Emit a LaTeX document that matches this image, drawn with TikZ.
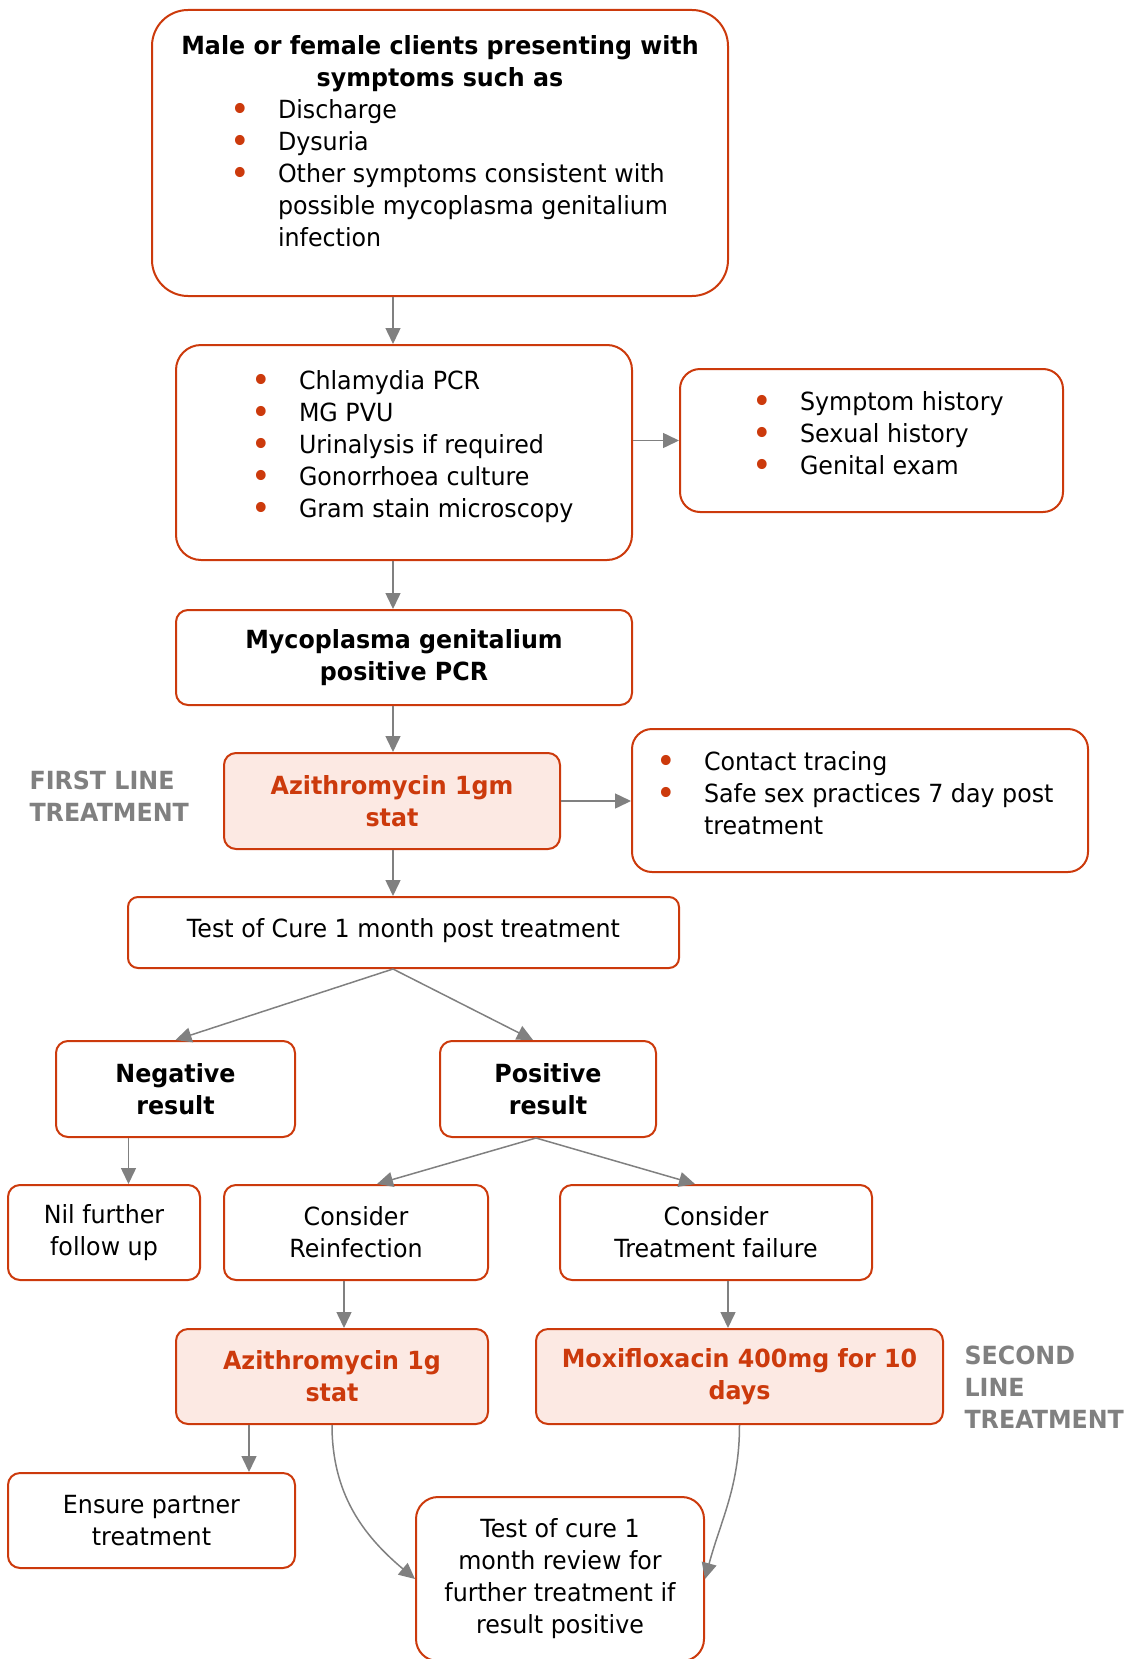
\documentclass[tikz,border=0pt]{standalone}
\usepackage{fontspec}
\setmainfont{DejaVu Sans}[FakeStretch=0.95]
\usepackage{xcolor}
\usepackage{tikz}
\usetikzlibrary{shapes.geometric, arrows, arrows.meta}
\definecolor{mgred}{RGB}{204,58,12}
\definecolor{mgpink}{RGB}{252,233,227}
\definecolor{mggrey}{RGB}{128,128,128}
\newcommand{\mgfont}{\fontsize{25}{32}\selectfont}
\newcommand{\bul}{\makebox[42pt][l]{\hspace{-6pt}\raisebox{-3pt}{\scalebox{1.4}{\textcolor{mgred}{\textbullet}}}}}
\newcommand{\bulline}[2]{\makebox[#1][l]{\bul #2}}
\newcommand{\bulcont}[2]{\makebox[#1][l]{\hspace{42pt}#2}}
\tikzstyle{plainbox} = [rectangle, rounded corners=12pt, 
draw=mgred, 
line width=2pt, 
fill=white, 
text=black, 
font=\mgfont, 
align=center]
\tikzstyle{drugbox} = [plainbox, 
fill=mgpink, 
text=mgred, 
font=\mgfont\bfseries]
\tikzstyle{sidelabel} = [text=mggrey, 
font=\mgfont\bfseries, 
align=left, 
anchor=west]
\tikzstyle{arrow} = [line width=1.5pt, draw=mggrey, ->, >={Triangle[length=16pt, width=15pt]}]

\begin{document}
\begin{tikzpicture}[x=1pt, y=-1pt]
\useasboundingbox (0,0) rectangle (1146,1659);
\coordinate (spine) at (393,0);

\node (top) [plainbox, rounded corners=36pt, minimum width=576pt, minimum height=286pt] at (440,153) {\textbf{Male or female clients presenting with}\\
\textbf{symptoms such as}\\
\bulline{408pt}{Discharge}\\
\bulline{408pt}{Dysuria}\\
\bulline{408pt}{Other symptoms consistent with}\\
\bulcont{408pt}{possible mycoplasma genitalium}\\
\bulcont{408pt}{infection}\rule[-24pt]{0pt}{24pt}};
\node (tests) [plainbox, rounded corners=25pt, minimum width=456pt, minimum height=215pt] at (404,452.5) {\bulline{294pt}{Chlamydia PCR}\\
\bulline{294pt}{MG PVU}\\
\bulline{294pt}{Urinalysis if required}\\
\bulline{294pt}{Gonorrhoea culture}\\
\bulline{294pt}{Gram stain microscopy}\rule[-18pt]{0pt}{18pt}};
\node (hist) [plainbox, rounded corners=20pt, minimum width=383pt, minimum height=143pt] at (871.5,440.5) {\bulline{227pt}{Symptom history}\\
\bulline{227pt}{Sexual history}\\
\bulline{227pt}{Genital exam}\rule[-16pt]{0pt}{16pt}};
\node (mg) [plainbox, minimum width=456pt, minimum height=95pt] at (404,657.5) {\textbf{Mycoplasma genitalium}\\ \textbf{positive PCR}};
\node (azi) [drugbox, minimum width=336pt, minimum height=96pt] at (392,801) {Azithromycin 1gm\\ stat};
\node (contact) [plainbox, rounded corners=20pt, minimum width=456pt, minimum height=143pt] at (860,800.5) {\bulline{396pt}{Contact tracing}\\
\bulline{396pt}{Safe sex practices 7 day post}\\
\bulcont{396pt}{treatment}\rule[-16pt]{0pt}{16pt}};
\node (toc) [plainbox, rounded corners=10pt, minimum width=551pt, minimum height=71pt] at (403.5,932.5) {Test of Cure 1 month post treatment\rule[-10pt]{0pt}{10pt}};
\node (neg) [plainbox, minimum width=239pt, minimum height=96pt] at (175.5,1089) {\textbf{Negative}\\ \textbf{result}};
\node (pos) [plainbox, minimum width=216pt, minimum height=96pt] at (548,1089) {\textbf{Positive}\\ \textbf{result}};
\node (nil) [plainbox, minimum width=192pt, minimum height=95pt] at (104,1232.5) {Nil further\\ follow up};
\node (reinf) [plainbox, minimum width=264pt, minimum height=95pt] at (356,1232.5) {Consider\\ Reinfection};
\node (tf) [plainbox, minimum width=312pt, minimum height=95pt] at (716,1232.5) {Consider\\ Treatment failure};
\node (azi1g) [drugbox, minimum width=312pt, minimum height=95pt] at (332,1376.5) {Azithromycin 1g\\ stat};
\node (moxi) [drugbox, minimum width=407pt, minimum height=95pt] at (739.5,1376.5) {Moxifloxacin 400mg for 10\\ days};
\node (ensure) [plainbox, minimum width=287pt, minimum height=95pt] at (151.5,1520.5) {Ensure partner\\ treatment};
\node (review) [plainbox, rounded corners=22pt, minimum width=288pt, minimum height=164pt] at (560,1579) {Test of cure 1\\ month review for\\ further treatment if\\ result positive};

\node (first) [sidelabel] at (26,796) {FIRST LINE\\ TREATMENT};
\node (second) [sidelabel] at (961,1387) {SECOND\\ LINE\\ TREATMENT};

\draw [arrow] (top.south -| spine) -- (tests.north -| spine);
\draw [arrow] (tests.east |- hist.west) -- (hist.west);
\draw [arrow] (tests.south -| spine) -- (mg.north -| spine);
\draw [arrow] (mg.south -| spine) -- (azi.north -| spine);
\draw [arrow] (azi.east) -- (azi.east -| contact.west);
\draw [arrow] (azi.south -| spine) -- (toc.north -| spine);
\draw [arrow] (toc.south -| spine) -- (neg.north);
\draw [arrow] (toc.south -| spine) -- ([xshift=-15pt]pos.north);
\draw [arrow] ([xshift=-47pt]neg.south) -- ([xshift=-47pt]neg.south |- nil.north);
\draw [arrow] ([xshift=-12pt]pos.south) -- ([xshift=21pt]reinf.north);
\draw [arrow] ([xshift=-12pt]pos.south) -- ([xshift=-21pt]tf.north);
\draw [arrow] ([xshift=-12pt]reinf.south) -- ([xshift=-12pt]reinf.south |- azi1g.north);
\draw [arrow] ([xshift=12pt]tf.south) -- ([xshift=12pt]tf.south |- moxi.north);
\draw [arrow] ([xshift=-83pt]azi1g.south) -- ([xshift=-83pt]azi1g.south |- ensure.north);
\draw [arrow] (azi1g.south) to[out=-90, in=140] (review.west);
\draw [arrow] (moxi.south) to[out=-90, in=75] (review.east);

\end{tikzpicture}
\end{document}
